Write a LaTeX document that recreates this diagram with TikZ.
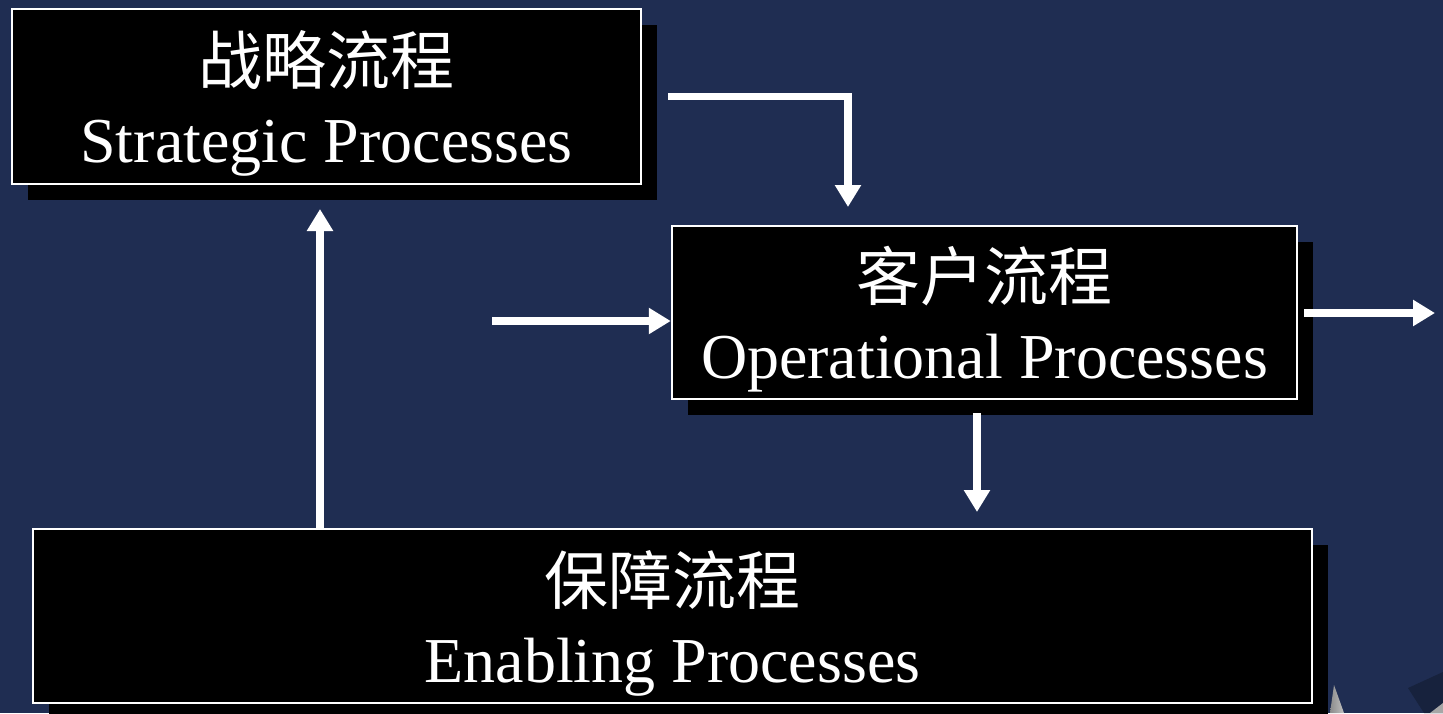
\documentclass[tikz,border=0pt]{standalone}
\usepackage{fontspec}
\setmainfont{Liberation Serif}
\newfontfamily\cjk{Noto Sans CJK SC}
\usetikzlibrary{arrows.meta,shadows}
\definecolor{fondo}{HTML}{1F2D52}
\tikzset{
  proceso/.style={draw=white, line width=2.5pt, fill=black, text=white,
    inner sep=0pt, align=center, font=\fontsize{64}{78}\selectfont, text depth=-6pt,
    drop shadow={shadow xshift=16pt, shadow yshift=-16pt, opacity=1, fill=black}},
  flecha/.style={white, line width=7.5pt, -{Triangle[width=25pt,length=22pt]}}
}
\begin{document}
\begin{tikzpicture}[x=1pt,y=-1pt]
  \useasboundingbox (0,0) rectangle (1443,713);
  \fill[fondo] (0,0) rectangle (1443,713);

  % Decoracion
  \fill[fondo!75!black] (1408,688) -- (1443,672) -- (1443,713) -- (1424,713) -- cycle;
  \fill[gray!70] (1430,713) -- (1443,703) -- (1443,713) -- cycle;
  \shade[left color=gray!90, right color=gray!50] (1330,713) -- (1334,685) -- (1344,713) -- cycle;

  % Procesos
  \node[proceso, minimum width=629pt, minimum height=175pt] (estrategico) at (326.5,96.5)
    {{\cjk 战略流程}\\Strategic Processes};
  \node[proceso, minimum width=625pt, minimum height=173pt] (operativo) at (984.5,312.5)
    {{\cjk 客户流程}\\Operational Processes};
  \node[proceso, minimum width=1279pt, minimum height=174pt] (soporte) at (672.5,616)
    {{\cjk 保障流程}\\Enabling Processes};

  % Flechas
  \coordinate (e1) at (668,96.5);
  \coordinate (e2) at (848,207);
  \coordinate (s1) at (320,209);
  \coordinate (entrada) at (492,321);
  \coordinate (o1) at (1304,313);
  \coordinate (o2) at (1435,313);
  \coordinate (b1) at (977,413);
  \coordinate (b2) at (977,512);
  \draw[flecha] (e1) -| (e2);
  \draw[flecha] (soporte.north -| s1) -- (s1);
  \draw[flecha] (entrada) -- (entrada -| operativo.west);
  \draw[flecha] (o1) -- (o2);
  \draw[flecha] (b1) -- (b2);
\end{tikzpicture}
\end{document}
